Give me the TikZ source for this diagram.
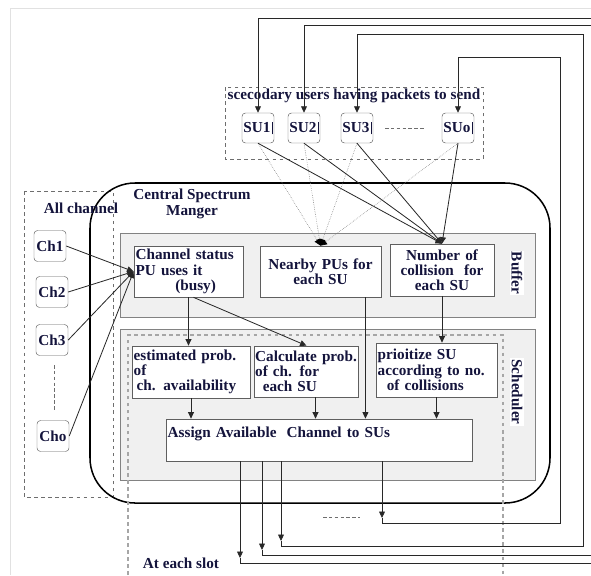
\documentclass[tikz,border=0pt]{standalone}
\usepackage{fontspec}
\setmainfont{Liberation Serif}
\usetikzlibrary{arrows.meta,calc}
\definecolor{txtcol}{RGB}{20,20,60}
\definecolor{boxgray}{RGB}{95,95,95}
\definecolor{panelgray}{RGB}{130,130,130}
\definecolor{panelfill}{RGB}{240,240,240}
\definecolor{dashgray}{RGB}{110,110,110}
\definecolor{linecol}{RGB}{40,40,40}
\definecolor{framegray}{RGB}{225,225,225}
\newcommand{\subar}{\hspace{1pt}\rule[-2pt]{0.8pt}{11pt}}
\begin{document}
\begin{tikzpicture}[x=0.03cm, y=-0.03cm,
    every node/.style={font=\fontsize{13}{13}\selectfont\bfseries, text=txtcol},
    subox/.style={draw=boxgray, rounded corners=3pt, fill=white, minimum width=0.96cm, minimum height=0.9cm, inner sep=1pt},
    chbox/.style={subox, minimum height=0.93cm},
    infobox/.style={draw=boxgray, fill=white, align=left, inner sep=1.5pt, line width=0.6pt},
    panel/.style={draw=panelgray, fill=panelfill, line width=0.8pt},
    dashbox/.style={draw=dashgray, dashed, line width=0.7pt},
    sidelabel/.style={rotate=-90, fill=white, inner sep=1pt},
    arr/.style={-{Triangle[length=5.5pt,width=5pt]}, line width=0.7pt, draw=linecol},
    pulink/.style={-{Triangle[length=5.5pt,width=5pt,color=black]}, draw=gray, densely dotted, line width=0.5pt},
    loopline/.style={draw=linecol, line width=0.7pt}
]
    \useasboundingbox (0,0) rectangle (591,575);
    \draw[framegray, line width=0.8pt] (10,575) -- (10,8) -- (591,8);

    % containers
    \draw[dashbox] (225,87) rectangle (483,159);
    \draw[dashbox] (24,191) rectangle (113,497);
    \draw[line width=1.3pt, rounded corners=1.35cm] (90,183) rectangle (550,503);
    \draw[panel] (120,233) rectangle (535,317);
    \draw[panel] (120,329) rectangle (535,480);
    \draw[dashbox, draw=gray!70, line width=1pt] (128,575) -- (128,335) -- (503,335) -- (503,575);

    % secondary users
    \node (suhead) at (354,96) {scecodary users having packets to send};
    \node[subox] (su1) at (258,128) {SU1\subar};
    \node[subox] (su2) at (304,128) {SU2\subar};
    \node[subox] (su3) at (357,128) {SU3\subar};
    \node[subox] (suq) at (458,128) {SUo\subar};
    \draw[dashgray, densely dashed, line width=0.6pt] (385,128) -- (425,128);

    % channels
    \node (allch) at (81,208) {All channel};
    \node[chbox] (ch1) at (50,246) {Ch1};
    \node[chbox] (ch2) at (52,292) {Ch2};
    \node[chbox] (ch3) at (52,340) {Ch3};
    \node[chbox] (cho) at (53,436) {Cho};
    \draw[dashgray, densely dashed, line width=0.6pt] (54,365) -- (54,410);

    \node[align=center] (csmtitle) at (192,204) {Central Spectrum\\Manger};

    % buffer
    \node[infobox, text width=3.17cm, minimum height=1.53cm] (chstatus) at (188.5,271.5) {Channel status\\PU uses it\\\hspace*{2.6em}(busy)};
    \node[infobox, align=center, text width=3.53cm, minimum height=1.53cm] (nearby) at (320.5,271.5) {Nearby PUs for\\each SU};
    \node[infobox, align=center, text width=3.02cm, minimum height=1.56cm] (ncoll) at (442,270) {Number of\\collision\ \ for\\each SU};
    \node[sidelabel] (buflabel) at (517,273) {Buffer};

    % scheduler
    \node[infobox, text width=3.44cm, minimum height=1.56cm] (estprob) at (191,372) {estimated prob.\\of\\\hspace*{0.2em}ch. availability};
    \node[infobox, inner xsep=0.6pt, text width=3.08cm, minimum height=1.53cm] (calcprob) at (306.5,371.5) {Calculate prob.\\of ch. for\\\hspace*{0.5em}each SU};
    \node[infobox, text width=3.53cm, minimum height=1.62cm] (prio) at (436.5,370) {prioitize SU\\according to no.\\\hspace*{0.6em}of collisions};
    \node[infobox, text width=9.08cm, minimum height=1.26cm] (assign) at (319,440) {Assign Available\ \ Channel to SUs\\\mbox{}};
    \node[sidelabel] (schedlabel) at (517,392) {Scheduler};

    % inputs
    \foreach \c in {ch1,ch2,ch3,cho}
        \draw[arr] (\c.east) -- (chstatus.west);
    \foreach \s in {su1,su2,su3,suq} {
        \draw[pulink] (\s.south) -- (nearby.north);
        \draw[arr] (\s.south) -- (ncoll.north);
    }
    \draw[arr] (chstatus.south) -- (chstatus.south |- estprob.north);
    \draw[arr] ($(chstatus.south)+(5,0)$) -- (calcprob.north);
    \draw[arr] ($(nearby.south east)+(-16,0)$) coordinate (nbout) -- (nbout |- assign.north);
    \draw[arr] (ncoll.south) -- (ncoll.south |- prio.north);
    \draw[arr] (estprob.south) -- (estprob.south |- assign.north);
    \draw[arr] ($(calcprob.south)+(9,0)$) coordinate (cpout) -- (cpout |- assign.north);
    \draw[arr] (prio.south) -- (prio.south |- assign.north);

    % feedback to the users
    \coordinate (b1) at (240,563);
    \coordinate (b2) at (262,555);
    \coordinate (b3) at (281,546);
    \coordinate (b4) at (382,523);
    \foreach \b in {b1,b2,b3,b4}
        \draw[arr] (assign.south -| \b) -- ($(\b)+(0,-5)$);
    \draw[loopline] ($(b1)+(0,-5)$) -- (b1) -- (591,563);
    \draw[arr] (591,18) -| (su1.north);
    \draw[loopline] ($(b2)+(0,-5)$) -- (b2) -- (591,555);
    \draw[arr] (591,25) -| (su2.north);
    \draw[arr] ($(b3)+(0,-5)$) -- (b3) -- (583,546) -- (583,34) -| (su3.north);
    \draw[arr] ($(b4)+(0,-5)$) -- (b4) -- (560,523) -- (560,57) -| (suq.north);
    \draw[dashgray, densely dashed, line width=0.6pt] (323,517) -- (360,517);

    \node (slot) at (181,563) {At each slot};
\end{tikzpicture}
\end{document}
